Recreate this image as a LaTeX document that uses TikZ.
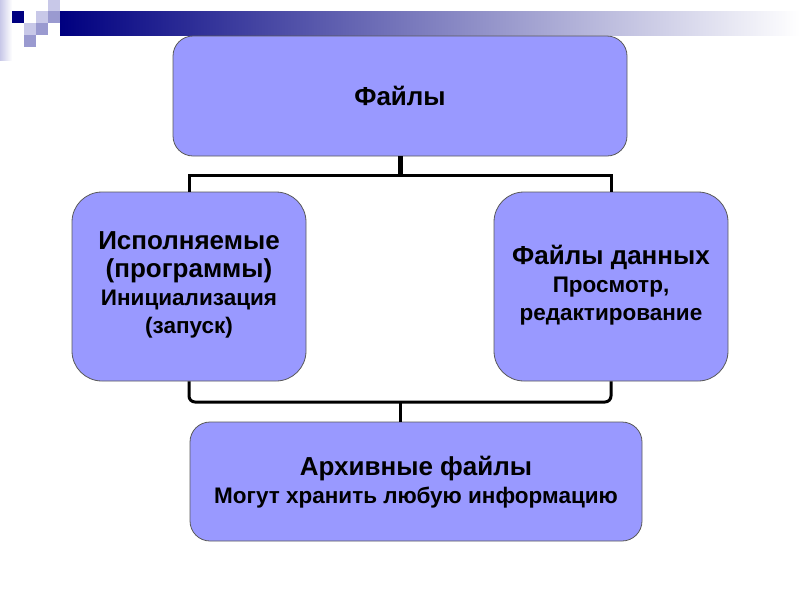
\documentclass[tikz,border=0pt]{standalone}
\usepackage{fontspec}
\setmainfont{Liberation Sans}
\usetikzlibrary{calc}
\definecolor{boxblue}{HTML}{9999FF}
\definecolor{navybar}{HTML}{000080}
\definecolor{lilac}{HTML}{C8C8E8}
\definecolor{midlilac}{HTML}{9A9AD0}
\def\headsize{\fontsize{26}{28}\selectfont}
\def\subsize{\fontsize{22.5}{27.5}\selectfont}
\def\filebox{\node[draw=black!65,line width=0.8pt,fill=boxblue,align=center,font=\bfseries\headsize]}
\def\drawlink{\draw[line width=3pt]}

\begin{document}
\begin{tikzpicture}[x=1pt,y=-1pt]
\useasboundingbox (0,0) rectangle (800,600);
% title bar
\shade[left color=navybar,right color=white] (60,11) rectangle (800,35);
\shade[left color=lilac,right color=white] (0,0) rectangle (12,60);
\fill[navybar] (12,11) rectangle (24,23);
\fill[lilac] (36,11) rectangle (48,23);
\fill[lilac] (48,0) rectangle (60,11);
\fill[midlilac] (48,11) rectangle (60,23);
\fill[lilac] (24,23) rectangle (36,35);
\fill[midlilac] (36,23) rectangle (48,35);
\fill[midlilac] (24,35) rectangle (36,47);
% boxes
\filebox[rounded corners=20pt,minimum width=454pt,minimum height=120pt] (files) at (400,96) {Файлы};
\filebox[rounded corners=30pt,minimum width=234pt,minimum height=189pt,text depth=8pt] (exec) at (189,286.5)
  {Исполняемые\\ (программы)\\ \subsize Инициализация\\ \subsize (запуск)};
\filebox[rounded corners=30pt,minimum width=234pt,minimum height=189pt,text depth=8pt] (data) at (611,286.5)
  {Файлы данных\\ \subsize Просмотр,\\ \subsize редактирование};
\filebox[rounded corners=20pt,minimum width=452pt,minimum height=119pt,text depth=4pt] (archive) at (416,481.5)
  {Архивные файлы\\ \subsize Могут хранить любую информацию};
% links
\coordinate (topjoin) at (400,175);
\coordinate (botjoin) at (400,402);
\draw[line width=5pt] (files.south) -- (topjoin);
\drawlink (exec.north) |- (topjoin) -| (data.north);
\drawlink[rounded corners=6pt] (exec.south) |- (botjoin) -| (data.south);
\drawlink (botjoin) -- (botjoin |- archive.north);
\end{tikzpicture}
\end{document}
